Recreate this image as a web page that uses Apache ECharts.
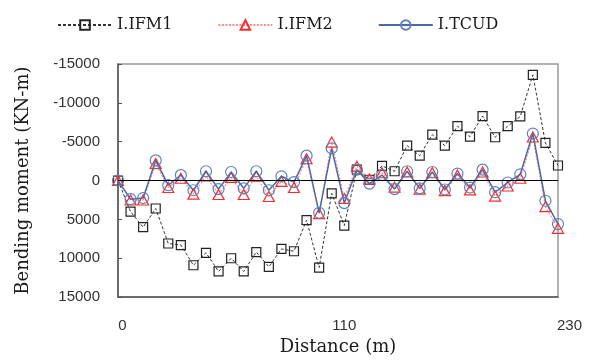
<!DOCTYPE html>
<html>
<head>
<meta charset="utf-8">
<script src="https://cdn.jsdelivr.net/npm/echarts@6/dist/echarts.min.js"></script>
<style>
html,body{margin:0;padding:0;background:#fff;}
#chart{width:590px;height:361px;}
</style>
</head>
<body>
<div id="chart"></div>
<script>
// Tick labels shown on the distance axis (point index -> label)
const xTickLabels = {0: '0', 18: '110', 35: '230'};
const seriesNames = ['I.IFM1', 'I.IFM2', 'I.TCUD'];
const yTicks = {min: -15000, max: 15000, step: 5000};

// Bending moment values (KN-m) at each measurement point
const ifm1 = [0, 4000, 6000, 3600, 8100, 8300, 10900, 9300, 11700, 10000, 11700, 9200,
  11100, 8800, 9100, 5100, 11200, 1650, 5800, -1400, -100, -1900, -1200, -4500,
  -3200, -5900, -4500, -7000, -5650, -8300, -5570, -7000, -8250, -13600, -4850, -1940];
const ifm2 = [0, 2500, 2500, -2200, 900, -300, 1750, -600, 1800, -400, 1800, -550,
  2050, 100, 900, -2800, 4250, -4950, 2300, -1850, -200, -1000, 850, -1100,
  1100, -1000, 1300, -700, 1200, -1100, 2000, 700, -300, -5600, 3350, 6150];
const tcud = [0, 2400, 2250, -2600, 600, -700, 1250, -1200, 1100, -1100, 1000, -1200,
  1250, -550, 200, -3200, 4150, -4150, 2900, -1400, 400, -700, 1100, -1200,
  1000, -1100, 1150, -900, 900, -1400, 1500, 250, -800, -6050, 2600, 5600];

const categories = ifm1.map((_, i) => String(i));

const chart = echarts.init(document.getElementById('chart'), null, {renderer: 'canvas'});
const serif = 'DejaVu Serif';
const sans = 'Liberation Sans';

chart.setOption({
  animation: false,
  backgroundColor: '#ffffff',
  legend: {
    left: 52, top: 12,
    itemWidth: 54, itemHeight: 12, itemGap: 45,
    textStyle: {fontFamily: serif, fontSize: 16, color: '#1a1a1a'},
    data: seriesNames
  },
  grid: {
    left: 118, right: 32, top: 64, bottom: 58,
    show: true, borderColor: '#9a9a9a', borderWidth: 1.5, backgroundColor: 'transparent'
  },
  xAxis: {
    type: 'category',
    data: categories,
    boundaryGap: false,
    axisLine: {show: true, onZero: false, lineStyle: {color: '#555', width: 1.5}},
    axisTick: {show: false},
    splitLine: {show: false},
    axisLabel: {
      interval: 0,
      margin: 21,
      fontFamily: sans, fontSize: 15, color: '#333',
      formatter: (v, i) => {
        const t = xTickLabels[i];
        if (t === undefined) return '';
        if (i === 0) return '{a|' + t + '}';
        if (i === categories.length - 1) return '{b|' + t + '}';
        return t;
      },
      rich: {
        a: {fontFamily: sans, fontSize: 15, color: '#333', padding: [0, 0, 0, 9]},
        b: {fontFamily: sans, fontSize: 15, color: '#333', padding: [0, 0, 0, 23]}
      }
    },
    name: 'Distance (m)',
    nameLocation: 'middle',
    nameGap: 39,
    nameTextStyle: {fontFamily: serif, fontSize: 18, color: '#1a1a1a'}
  },
  yAxis: {
    type: 'value',
    inverse: true,
    min: yTicks.min, max: yTicks.max, interval: yTicks.step,
    axisLine: {show: true, lineStyle: {color: '#555', width: 1.5}},
    axisTick: {show: true, inside: true, length: 4, lineStyle: {color: '#555'}},
    splitLine: {show: false},
    axisLabel: {
      margin: 18,
      fontFamily: sans, fontSize: 15, color: '#333',
      formatter: v => String(v)
    },
    name: 'Bending moment (KN-m)',
    nameLocation: 'middle',
    nameGap: 86,
    nameTextStyle: {fontFamily: serif, fontSize: 18, color: '#1a1a1a'}
  },
  series: [
    {
      name: seriesNames[0], type: 'line', data: ifm1,
      symbol: 'rect', symbolSize: 9,
      lineStyle: {color: '#333', width: 1, type: [3, 2]},
      itemStyle: {color: 'rgba(255,255,255,0)', borderColor: '#222', borderWidth: 1.2},
      markLine: {
        silent: true, symbol: 'none', animation: false,
        label: {show: false},
        lineStyle: {color: '#000', width: 1.2, type: 'solid'},
        data: [{yAxis: 0}]
      },
      z: 2
    },
    {
      name: seriesNames[1], type: 'line', data: ifm2,
      symbol: 'triangle', symbolSize: [11, 10],
      lineStyle: {color: '#ff8a8a', width: 1.2, type: [2, 1.5]},
      itemStyle: {color: 'rgba(255,255,255,0)', borderColor: '#ff2a2a', borderWidth: 1.2},
      z: 3
    },
    {
      name: seriesNames[2], type: 'line', data: tcud,
      symbol: 'circle', symbolSize: 11,
      lineStyle: {color: '#4a6aa3', width: 1.5},
      itemStyle: {color: 'rgba(255,255,255,0)', borderColor: '#5f80b8', borderWidth: 1.2},
      z: 4
    }
  ]
});
</script>
</body>
</html>
